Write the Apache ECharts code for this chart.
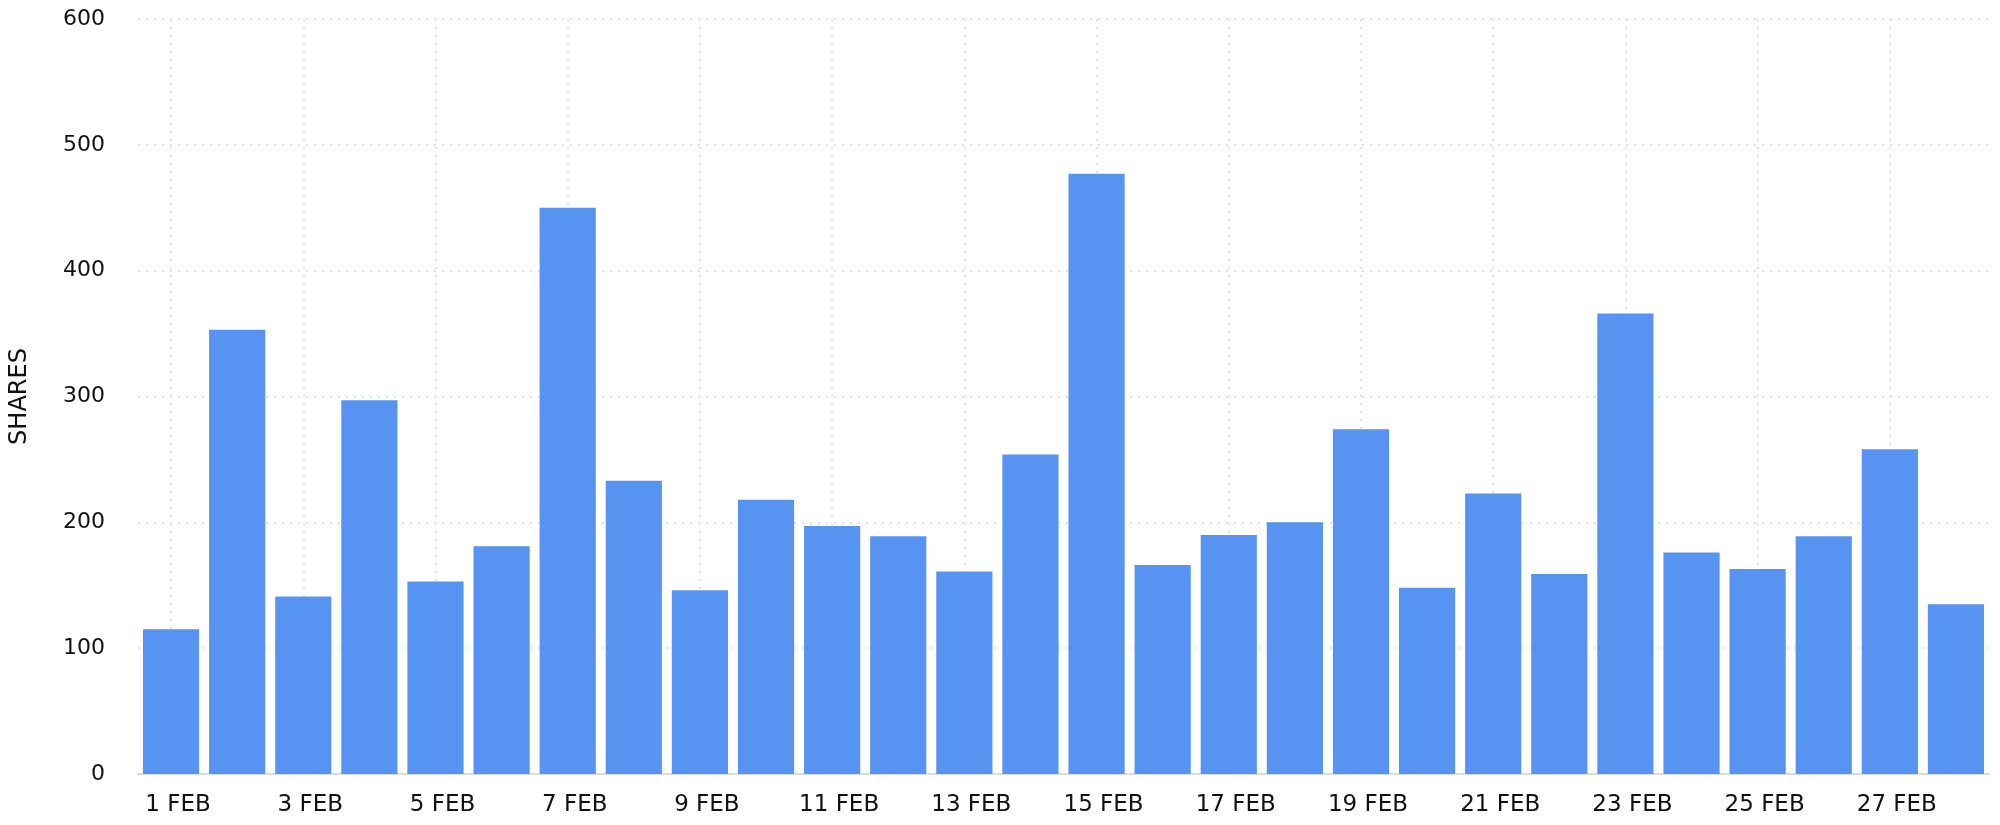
<!DOCTYPE html>
<html>
<head>
<meta charset="utf-8">
<script src="https://cdn.jsdelivr.net/npm/echarts@6/dist/echarts.min.js"></script>
<style>
  html, body { margin: 0; padding: 0; background: #fff; }
  #chart { width: 2000px; height: 825px; }
</style>
</head>
<body>
<div id="chart"></div>
<script>
var days = ['1 FEB', '2 FEB', '3 FEB', '4 FEB', '5 FEB', '6 FEB', '7 FEB', '8 FEB', '9 FEB', '10 FEB',
            '11 FEB', '12 FEB', '13 FEB', '14 FEB', '15 FEB', '16 FEB', '17 FEB', '18 FEB', '19 FEB', '20 FEB',
            '21 FEB', '22 FEB', '23 FEB', '24 FEB', '25 FEB', '26 FEB', '27 FEB', '28 FEB'];
var shares = [115, 353, 141, 297, 153, 181, 450, 233, 146, 218,
              197, 189, 161, 254, 477, 166, 190, 200, 274, 148,
              223, 159, 366, 176, 163, 189, 258, 135];
var yTicks = { min: 0, max: 600, step: 100 };

var chart = echarts.init(document.getElementById('chart'));
var gridDots = { color: '#e2e2e2', width: 2, type: [2, 6] };
var option = {
  backgroundColor: '#ffffff',
  animation: false,
  textStyle: { fontFamily: 'DejaVu Sans' },
  grid: { left: 136, right: 11, top: 19, bottom: 51 },
  xAxis: {
    type: 'category',
    data: days,
    axisLine: { lineStyle: { color: '#dcdcdc', width: 2 } },
    axisTick: { alignWithLabel: true, interval: 1, length: 8, lineStyle: { color: '#d6d6d6', width: 2 } },
    // labels sit a little right of their tick in the reference
    axisLabel: { interval: 1, fontSize: 23, color: '#111', margin: 20, padding: [0, 0, 0, 14] },
    splitLine: { show: true, alignWithLabel: true, interval: 1, lineStyle: gridDots }
  },
  yAxis: {
    type: 'value',
    min: yTicks.min,
    max: yTicks.max,
    interval: yTicks.step,
    name: 'SHARES',
    nameLocation: 'middle',
    nameGap: 106,
    nameTextStyle: { fontSize: 24, color: '#111' },
    axisLine: { show: false },
    axisTick: { show: false },
    axisLabel: { fontSize: 22, color: '#111', margin: 33 },
    splitLine: { show: true, lineStyle: gridDots }
  },
  series: [
    {
      type: 'bar',
      data: shares,
      barCategoryGap: '15%',
      itemStyle: { color: '#5794F2' }
    }
  ]
};
chart.setOption(option);
</script>
</body>
</html>
